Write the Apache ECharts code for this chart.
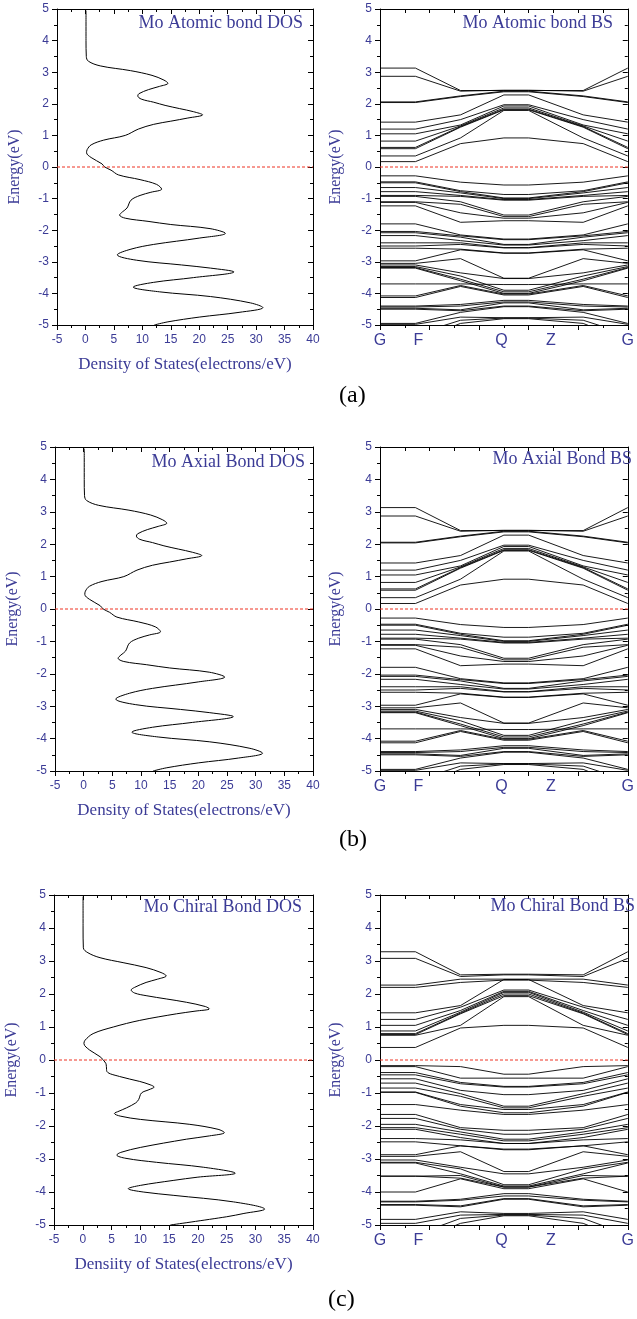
<!DOCTYPE html>
<html><head><meta charset="utf-8">
<script src="https://cdn.jsdelivr.net/npm/echarts@6/dist/echarts.min.js"></script>
<style>html,body{margin:0;padding:0;background:#fff}#c{width:637px;height:1319px}</style>
</head><body><div id="c"></div>
<script>
// ---------- DATA ----------
const panelLabels = ['(a)', '(b)', '(c)'];
const dosTitles = ['Mo Atomic bond DOS', 'Mo Axial Bond DOS', 'Mo Chiral Bond DOS'];
const bsTitles = ['Mo Atomic bond BS', 'Mo Axial Bond BS', 'Mo Chiral Bond BS'];
const dosAxisNames = ['Density of States(electrons/eV)', 'Density of States(electrons/eV)', 'Densiity of States(electrons/eV)'];
const energyAxisName = 'Energy(eV)';
const fermiLevel = 0;
const energyRange = [-5, 5];
const dosRange = [-5, 40];
const kRange = [0, 10];
const kPathPos = [0, 1.43, 3.25, 5.0, 6.0, 8.2, 10];
const kLabelNames = ['G', 'F', 'Q', 'Z', 'G'];
const kLabelPos = [0, 1.55, 4.9, 6.9, 10];

// DOS (a) and (b)
const dosEnergyA = [4.95,4.0,3.5,3.35,3.2,3.05,2.9,2.75,2.65,2.55,2.45,2.32,2.25,2.15,2.05,1.95,1.85,1.75,1.65,1.55,1.45,1.35,1.2,1.0,0.85,0.7,0.55,0.45,0.3,0.1,0.0,-0.1,-0.25,-0.4,-0.55,-0.7,-0.8,-0.9,-1.05,-1.3,-1.42,-1.52,-1.62,-1.72,-1.82,-1.95,-2.1,-2.25,-2.45,-2.6,-2.78,-2.95,-3.1,-3.2,-3.32,-3.5,-3.65,-3.8,-3.95,-4.1,-4.3,-4.45,-4.6,-4.75,-4.9,-5.0];
const dosValueA = [0.1,0.1,0.15,0.5,2.6,7.9,11.7,13.8,14.5,13.0,11.1,9.4,9.2,9.8,12.0,14.0,16.5,19.0,20.6,18.0,15.0,12.0,9.3,7.0,3.2,1.0,0.3,0.2,1.0,2.9,3.4,4.5,5.8,9.6,12.5,13.4,11.5,9.6,8.0,7.3,6.5,6.0,7.0,11,15,21.9,24.6,20,12,8,5.6,9,16.9,22,26.1,19,12,8.4,13,22,29,31.2,27,20,14.5,12.1];
const dosEnergyB = dosEnergyA.slice();
const dosValueB = dosValueA.slice();
// DOS (c)
const dosEnergyC = [4.95,4.0,3.4,3.25,3.1,2.95,2.8,2.65,2.55,2.45,2.35,2.2,2.12,2.03,1.95,1.75,1.62,1.55,1.48,1.4,1.2,1.0,0.8,0.6,0.5,0.3,0.1,-0.1,-0.2,-0.35,-0.5,-0.65,-0.75,-0.82,-0.9,-1.0,-1.2,-1.3,-1.45,-1.55,-1.62,-1.7,-1.8,-1.95,-2.1,-2.2,-2.3,-2.4,-2.65,-2.8,-2.88,-2.98,-3.1,-3.25,-3.43,-3.55,-3.65,-3.8,-3.9,-4.0,-4.1,-4.3,-4.52,-4.65,-4.75,-5.0];
const dosValueC = [0.05,0.05,0.1,0.9,3,7,11,13.6,14.5,13,11,9,8.4,9,11,18,21.3,22,19.5,16.3,9.9,5.3,1.8,0.4,0.2,1.2,3,4,4.1,4.2,6.4,9.9,11.7,12.4,11.5,10.2,9.7,9.2,7.6,6.3,5.5,6.5,10,18.6,23.5,24.6,22,18,10,6.6,5.9,7.5,12.8,21,26.5,20,15.7,10,7.9,10.5,15.7,26.2,31.6,28,25,15.2];

// Bands: [E at G (=F), E at mid point between F and Q, E at Q (=Z)]
const bandsA = [
 [3.13,2.42,2.42],[2.87,2.40,2.43],[2.06,2.25,2.40],[2.04,2.23,2.38],[1.42,1.65,2.28],[1.20,1.50,1.97],
 [1.05,1.33,1.93],[0.82,1.30,1.87],[0.62,1.28,1.83],[0.58,1.26,1.81],[0.35,0.92,1.79],[0.17,0.74,0.92],
 [-0.28,-0.48,-0.57],[-0.47,-0.75,-0.87],[-0.50,-0.78,-0.98],[-0.65,-0.82,-1.00],[-0.78,-0.90,-1.03],
 [-0.90,-0.93,-1.05],[-0.93,-1.10,-1.52],[-1.10,-1.18,-1.57],[-1.12,-1.45,-1.62],[-1.23,-1.75,-1.70],
 [-1.80,-2.15,-2.28],[-2.04,-2.18,-2.30],[-2.08,-2.22,-2.45],[-2.17,-2.33,-2.47],[-2.40,-2.40,-2.55],
 [-2.50,-2.45,-2.56],[-2.57,-2.60,-2.72],[-2.97,-2.62,-2.73],[-3.05,-2.90,-3.52],[-3.10,-3.35,-3.53],
 [-3.15,-3.45,-3.90],[-3.18,-3.55,-3.95],[-3.20,-3.60,-4.00],[-3.70,-3.70,-3.72],[-4.08,-3.75,-4.02],
 [-4.13,-3.78,-4.05],[-4.40,-4.35,-4.22],[-4.43,-4.40,-4.27],[-4.47,-4.52,-4.30],[-4.50,-4.55,-4.40],
 [-4.95,-4.60,-4.42],[-4.98,-4.75,-4.77],[-5.30,-4.85,-4.78],[-5.50,-4.95,-4.80]
];
const bandsB = bandsA.map(b => b.slice());
const bandsC = [
 [3.28,2.58,2.60],[3.08,2.53,2.58],[2.27,2.45,2.45],[2.20,2.35,2.42],[1.43,1.65,2.44],[1.23,1.60,2.12],
 [1.05,1.50,2.08],[0.88,1.45,2.05],[0.80,1.42,2.00],[0.77,1.40,1.95],[0.75,1.05,1.92],[0.38,0.97,1.05],
 [-0.17,-0.20,-0.43],[-0.20,-0.55,-0.55],[-0.38,-0.68,-0.80],[-0.45,-0.72,-0.82],[-0.57,-0.92,-1.05],
 [-0.70,-1.02,-1.40],[-0.85,-1.10,-1.45],[-0.97,-1.35,-1.50],[-0.98,-1.40,-1.60],[-1.35,-1.52,-1.65],
 [-1.65,-2.05,-2.13],[-1.77,-2.10,-2.25],[-1.95,-2.18,-2.40],[-2.05,-2.25,-2.45],[-2.10,-2.35,-2.53],
 [-2.38,-2.42,-2.53],[-2.48,-2.60,-2.70],[-2.87,-2.60,-2.72],[-2.92,-2.78,-3.38],[-3.03,-3.25,-3.45],
 [-3.10,-3.30,-3.78],[-3.12,-3.45,-3.82],[-3.52,-3.50,-3.85],[-3.52,-3.58,-3.85],[-4.00,-3.60,-3.90],
 [-4.28,-4.22,-4.05],[-4.30,-4.25,-4.12],[-4.38,-4.42,-4.20],[-4.40,-4.45,-4.22],[-4.83,-4.60,-4.65],
 [-4.95,-4.70,-4.68],[-5.30,-4.80,-4.70],[-5.50,-4.95,-4.72]
];

// ---------- LAYOUT / STYLE ----------
const BLUE = '#3b3b96';
const RED = '#ee3322';
const SANS = 'Liberation Sans';
const SERIF = 'Liberation Serif';
const layout = [
  {dos:{left:57,top:9,width:256,height:316}, bs:{left:380,top:9,width:256,height:316},
   dosTitle:{right:334,top:14}, bsTitle:{right:24,top:14}, lab:{left:339,top:384}},
  {dos:{left:55,top:447,width:258,height:324}, bs:{left:380,top:447,width:258,height:324},
   dosTitle:{right:332,top:453}, bsTitle:{right:5,top:450}, lab:{left:339,top:828}},
  {dos:{left:54,top:895,width:259,height:330}, bs:{left:380,top:895,width:258,height:330},
   dosTitle:{right:335,top:898}, bsTitle:{right:2,top:897}, lab:{left:328,top:1288}}
];
const dosData = [[dosEnergyA,dosValueA],[dosEnergyB,dosValueB],[dosEnergyC,dosValueC]];
const bandData = [bandsA, bandsB, bandsC];

const grid = [], xAxis = [], yAxis = [], series = [], title = [], graphic = [];
const blackLine = () => ({lineStyle:{color:'#000', width:1}});
function yPair(g, gap) {
  yAxis.push({type:'value', gridIndex:g, min:energyRange[0], max:energyRange[1], interval:1, position:'left',
    name: energyAxisName, nameLocation:'middle', nameGap:gap, nameRotate:90,
    nameTextStyle:{fontFamily:SERIF, fontSize:16, color:BLUE},
    axisLine:{show:true, onZero:false, ...blackLine()},
    axisTick:{show:true, inside:false, length:5, ...blackLine()},
    minorTick:{show:true, splitNumber:2, length:3, ...blackLine()},
    splitLine:{show:false}, minorSplitLine:{show:false},
    axisLabel:{color:BLUE, fontSize:12, fontFamily:SANS, margin:8}});
  yAxis.push({type:'value', gridIndex:g, min:energyRange[0], max:energyRange[1], interval:1, position:'right',
    axisLine:{show:true, onZero:false, ...blackLine()},
    axisTick:{show:true, inside:true, length:5, ...blackLine()},
    minorTick:{show:true, splitNumber:2, length:3, ...blackLine()},
    splitLine:{show:false}, axisLabel:{show:false}});
}
function fermiSeries(axisIdx, range) {
  return {type:'line', xAxisIndex:axisIdx, yAxisIndex:axisIdx, showSymbol:false, silent:true, z:20,
    data:[[range[0], fermiLevel], [range[1], fermiLevel]],
    lineStyle:{color:RED, type:[3,2], width:1}, itemStyle:{color:RED}};
}
layout.forEach((L, p) => {
  const gD = 2*p, gB = 2*p+1;
  grid.push({...L.dos, containLabel:false});
  grid.push({...L.bs, containLabel:false});
  // DOS axes
  xAxis.push({type:'value', gridIndex:gD, min:dosRange[0], max:dosRange[1], interval:5, position:'bottom',
    name: dosAxisNames[p], nameLocation:'middle', nameGap:31,
    nameTextStyle:{fontFamily:SERIF, fontSize:17, color:BLUE},
    axisLine:{show:true, onZero:false, ...blackLine()},
    axisTick:{show:true, inside:false, length:5, ...blackLine()},
    minorTick:{show:true, splitNumber:2, length:3, ...blackLine()},
    splitLine:{show:false},
    axisLabel:{color:BLUE, fontSize:12, fontFamily:SANS, margin:9}});
  xAxis.push({type:'value', gridIndex:gD, min:dosRange[0], max:dosRange[1], interval:5, position:'top',
    axisLine:{show:true, onZero:false, ...blackLine()},
    axisTick:{show:true, inside:true, length:5, ...blackLine()},
    minorTick:{show:true, splitNumber:2, length:3, ...blackLine()},
    splitLine:{show:false}, axisLabel:{show:false}});
  yPair(gD, 34);
  // BS axes
  xAxis.push({type:'value', gridIndex:gB, min:kRange[0], max:kRange[1], interval:2, position:'bottom',
    axisLine:{show:true, onZero:false, ...blackLine()},
    axisTick:{show:true, inside:false, length:5, ...blackLine()},
    minorTick:{show:true, splitNumber:2, length:3, ...blackLine()},
    splitLine:{show:false},
    axisLabel:{color:BLUE, fontSize:16, fontFamily:SANS, margin:8,
      showMinLabel:true, showMaxLabel:true, alignMinLabel:'center', alignMaxLabel:'center',
      customValues:kLabelPos,
      formatter:(v)=>{const i=kLabelPos.findIndex(x=>Math.abs(x-v)<1e-6); return i>=0?kLabelNames[i]:'';}}});
  xAxis.push({type:'value', gridIndex:gB, min:kRange[0], max:kRange[1], interval:1, position:'top',
    axisLine:{show:true, onZero:false, ...blackLine()},
    axisTick:{show:true, inside:true, length:4, ...blackLine()},
    splitLine:{show:false}, axisLabel:{show:false}});
  yPair(gB, 36);

  const [E, N] = dosData[p];
  series.push({type:'line', xAxisIndex:2*gD, yAxisIndex:2*gD, showSymbol:false, smooth:0.35,
    data:E.map((e,i)=>[N[i], e]), lineStyle:{color:'#000', width:1}, itemStyle:{color:'#000'}, clip:true, z:5});
  bandData[p].forEach((b) => {
    const vals = [b[0], b[0], b[1], b[2], b[2], b[1], b[0]];
    series.push({type:'line', xAxisIndex:2*gB, yAxisIndex:2*gB, showSymbol:false, smooth:false,
      data:kPathPos.map((k,i)=>[k, vals[i]]), lineStyle:{color:'#000', width:0.9}, itemStyle:{color:'#000'}, clip:true, z:5});
  });
  series.push(fermiSeries(2*gD, dosRange));
  series.push(fermiSeries(2*gB, kRange));

  title.push({text:dosTitles[p], ...L.dosTitle, padding:0,
    textStyle:{fontFamily:SERIF, fontSize:18, fontWeight:'normal', color:BLUE}});
  title.push({text:bsTitles[p], ...L.bsTitle, padding:0,
    textStyle:{fontFamily:SERIF, fontSize:18, fontWeight:'normal', color:BLUE}});
  graphic.push({type:'text', ...L.lab, style:{text:panelLabels[p], font:'24px "Liberation Serif"', fill:'#000'}});
});

const chart = echarts.init(document.getElementById('c'), null, {renderer:'canvas'});
chart.setOption({animation:false, backgroundColor:'#fff', title, grid, xAxis, yAxis, series, graphic,
  tooltip:{show:false}});
</script></body></html>
